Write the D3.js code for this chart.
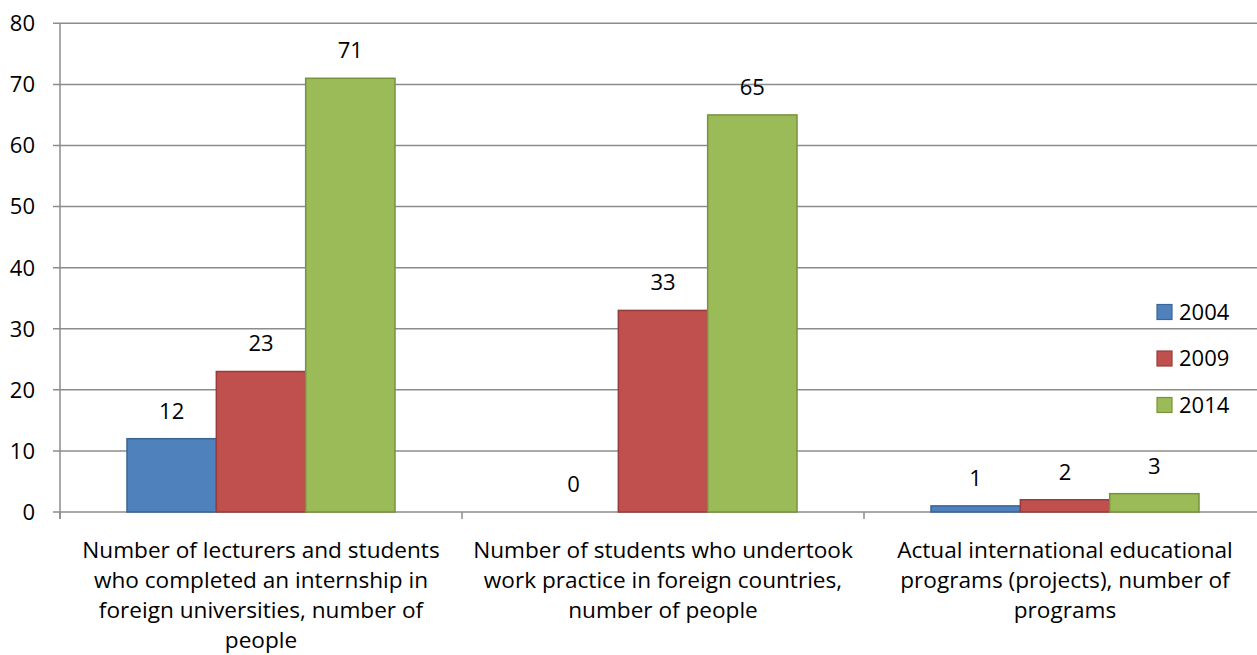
<!DOCTYPE html>
<html><head><meta charset="utf-8">
<script src="https://cdnjs.cloudflare.com/ajax/libs/d3/7.8.5/d3.min.js"></script>
<style>body{margin:0;background:#fff}svg{display:block}</style>
</head><body>
<svg id="c" width="1257" height="655"></svg>
<script>
const categories = [
  ["Number of lecturers and students","who completed an internship in","foreign universities, number of","people"],
  ["Number of students who undertook","work practice in foreign countries,","number of people"],
  ["Actual international educational","programs (projects), number of","programs"]
];
const seriesNames = ["2004","2009","2014"];
const values2004 = [12, 0, 1];
const values2009 = [23, 33, 2];
const values2014 = [71, 65, 3];
const yTicks = [0,10,20,30,40,50,60,70,80];
const fills = ["#4F81BD","#C0504D","#9BBB59"];
const strokes = ["#3A6596","#963C3A","#77933C"];

(function(){
const series = [values2004, values2009, values2014];
const svg = d3.select("#c");
const font = "'Open Sans', sans-serif";
const fs = 22;
const fsCat = 22.6;
const pLeft = 60, pRight = 1266, pTop = 23.3, pBottom = 512;
const x0 = d3.scaleBand().domain(d3.range(categories.length)).range([pLeft, pRight]).padding(0);
const y = d3.scaleLinear().domain([0,80]).range([pBottom, pTop]);
const innerPad = 67/402;
const gw = x0.bandwidth()*(1-2*innerPad);
const x1 = d3.scaleBand().domain(d3.range(series.length)).range([x0.bandwidth()*innerPad, x0.bandwidth()*innerPad+gw]);

svg.append("g").selectAll("line").data(yTicks).join("line")
  .attr("x1", pLeft-7).attr("x2", 1257).attr("y1", d=>y(d)).attr("y2", d=>y(d))
  .attr("stroke","#8c8c8c").attr("stroke-width",1.5);
svg.append("line").attr("x1",pLeft).attr("x2",pLeft).attr("y1",pTop).attr("y2",pBottom+7)
  .attr("stroke","#8c8c8c").attr("stroke-width",1.5);
svg.append("g").selectAll("text").data(yTicks).join("text")
  .attr("x", 35).attr("y", d=>y(d)).attr("dy","0.36em").attr("text-anchor","end")
  .attr("font-family",font).attr("font-size",fs).attr("fill","#000").text(d=>d);
svg.append("g").selectAll("line").data(d3.range(categories.length+1)).join("line")
  .attr("x1", d=>pLeft + d*x0.bandwidth()).attr("x2", d=>pLeft + d*x0.bandwidth())
  .attr("y1", pBottom).attr("y2", pBottom+7).attr("stroke","#8c8c8c").attr("stroke-width",1.5);

series.forEach((vals, si) => {
  const g = svg.append("g");
  g.selectAll("rect").data(vals).join("rect")
    .attr("x", (d,i)=>x0(i)+x1(si)).attr("width", x1.bandwidth())
    .attr("y", d=>y(d)).attr("height", d=>y(0)-y(d))
    .attr("fill", fills[si]).attr("stroke", strokes[si]).attr("stroke-width",1.5);
  g.selectAll("text").data(vals).join("text")
    .attr("x", (d,i)=>x0(i)+x1(si)+x1.bandwidth()/2).attr("y", d=>y(d)-20)
    .attr("text-anchor","middle").attr("font-family",font).attr("font-size",fs).attr("fill","#000")
    .text(d=>d);
});

categories.forEach((lines, i) => {
  const t = svg.append("text").attr("text-anchor","middle").attr("font-family",font)
    .attr("font-size",fsCat).attr("fill","#000");
  lines.forEach((ln, k) => {
    t.append("tspan").attr("x", x0(i)+x0.bandwidth()/2).attr("y", 558 + k*30).text(ln);
  });
});

const lg = svg.append("g");
seriesNames.forEach((n, i) => {
  const yy = 312 + i*46.5;
  lg.append("rect").attr("x",1157).attr("y",yy-7.5).attr("width",15).attr("height",15)
    .attr("fill",fills[i]).attr("stroke",strokes[i]).attr("stroke-width",1.2);
  lg.append("text").attr("x",1179).attr("y",yy).attr("dy","0.36em")
    .attr("font-family",font).attr("font-size",fs).attr("fill","#000").text(n);
});
})();
</script>
</body></html>
